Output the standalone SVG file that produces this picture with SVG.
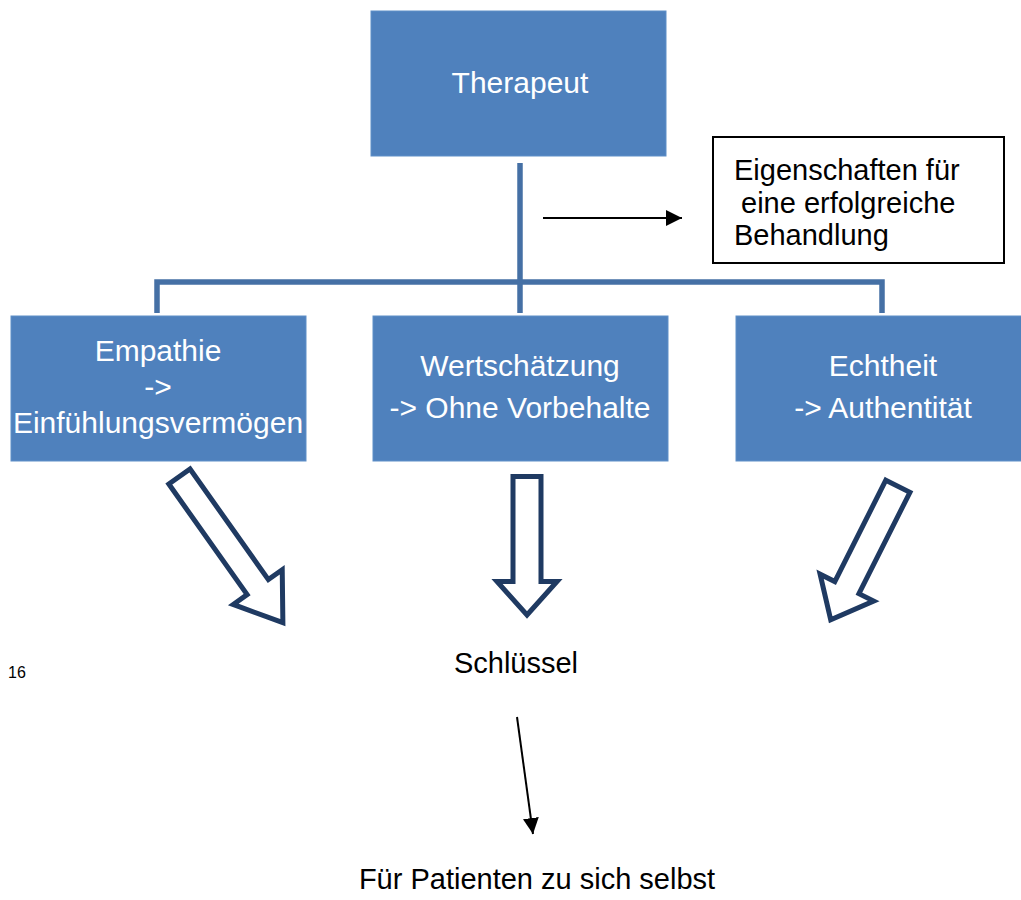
<svg xmlns="http://www.w3.org/2000/svg" width="1021" height="900" viewBox="0 0 1021 900">
<style>
.box{fill:#4f81bd;stroke:#5f8fc8;stroke-width:1}
.wt{font-family:"Liberation Sans",Arial,sans-serif;font-size:30px;fill:#ffffff;text-anchor:middle}
.bt{font-family:"Liberation Sans",Arial,sans-serif;font-size:29px;fill:#000000}
.conn{fill:none;stroke:#4570a5;stroke-width:5.5}
.blk{fill:#ffffff;stroke:#1f3a62;stroke-width:5;stroke-linejoin:miter}
.ln{fill:none;stroke:#000000;stroke-width:2}
</style>
<defs>
<marker id="ah2" viewBox="0 0 10 10" refX="10" refY="5" markerWidth="8" markerHeight="8" orient="auto">
<path d="M0,0 L10,5 L0,10 Z" fill="#000000"/>
</marker>
</defs>
<rect width="1021" height="900" fill="#ffffff"/>

<g id="connectors">
<path class="conn" d="M520,163 V282"/>
<path class="conn" d="M157,313 V282 H882 V313"/>
<path class="conn" d="M520,282 V313"/>
<line class="ln" x1="543" y1="218" x2="682" y2="218" marker-end="url(#ah2)"/>
<line class="ln" x1="517" y1="717" x2="533" y2="834" marker-end="url(#ah2)"/>
</g>

<g id="therapeut">
<rect class="box" x="371" y="11" width="295" height="145"/>
<text class="wt" x="520" y="93">Therapeut</text>
</g>

<g id="eigenschaften">
<rect x="713" y="137" width="291" height="126" fill="#ffffff" stroke="#000000" stroke-width="2"/>
<text class="bt" x="734" y="180">Eigenschaften für</text>
<text class="bt" x="741" y="213">eine erfolgreiche</text>
<text class="bt" x="734" y="245">Behandlung</text>
</g>

<g id="empathie">
<rect class="box" x="11" y="316" width="295" height="145"/>
<text class="wt" x="158" y="361">Empathie</text>
<text class="wt" x="158" y="397">-&gt;</text>
<text class="wt" x="158" y="433">Einfühlungsvermögen</text>
</g>

<g id="wertschaetzung">
<rect class="box" x="373" y="316" width="295" height="145"/>
<text class="wt" x="520" y="376">Wertschätzung</text>
<text class="wt" x="520" y="418">-&gt; Ohne Vorbehalte</text>
</g>

<g id="echtheit">
<rect class="box" x="736" y="316" width="294" height="145"/>
<text class="wt" x="883" y="376">Echtheit</text>
<text class="wt" x="883" y="418">-&gt; Authentität</text>
</g>

<g id="arrow-left">
<path class="blk" transform="translate(178,474.5) rotate(-35.3)" d="M-13,2.5 H13 V138 H30 L0,181.5 L-30,138 H-13 Z"/>
</g>
<g id="arrow-middle">
<path class="blk" transform="translate(527,474)" d="M-14,2.5 H14 V107.5 H30 L0,141 L-30,107.5 H-14 Z"/>
</g>
<g id="arrow-right">
<path class="blk" transform="translate(899,484) rotate(26.7)" d="M-13.5,2.5 H13.5 V116 H30 L0,152 L-30,116 H-13.5 Z"/>
</g>

<g id="schluessel">
<text class="bt" x="516" y="673" text-anchor="middle">Schlüssel</text>
</g>
<g id="patienten">
<text class="bt" x="537" y="889" text-anchor="middle">Für Patienten zu sich selbst</text>
</g>
<g id="pagenum">
<text x="8" y="678" font-family="Liberation Sans,Arial,sans-serif" font-size="16" fill="#000000">16</text>
</g>
</svg>
